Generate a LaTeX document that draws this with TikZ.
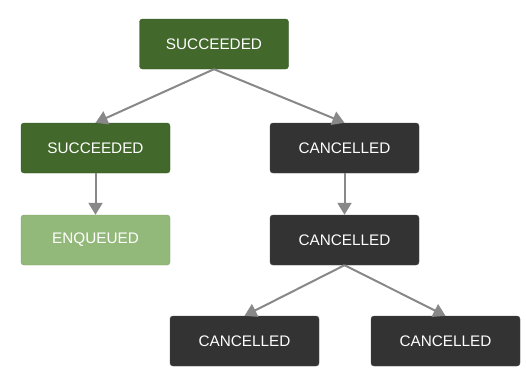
\documentclass[tikz,border=0pt]{standalone}
\usepackage{fontspec}
\setmainfont{Liberation Sans}
\usepackage{xcolor}
\usepackage{tikz}
\usetikzlibrary{arrows.meta, positioning}
\definecolor{okgreen}{RGB}{66, 104, 44}
\definecolor{queuedgreen}{RGB}{147, 185, 122}
\definecolor{cancelgray}{RGB}{51, 51, 51}
\definecolor{edgegray}{RGB}{136, 136, 136}

\tikzset{
    job/.style={rounded corners=3pt, minimum width=149pt, minimum height=50pt,
        text=white, font=\fontsize{15.3}{17}\selectfont, inner sep=0pt},
    succeeded/.style={job, fill=okgreen, draw=okgreen!85!black},
    enqueued/.style={job, fill=queuedgreen, draw=queuedgreen!85!black},
    cancelled/.style={job, fill=cancelgray, draw=cancelgray!90!white},
    flow/.style={draw=edgegray, line width=2pt, -{Triangle[width=14pt,length=12pt]}}
}

\begin{document}
\begin{tikzpicture}[x=1pt, y=-1pt]
    \useasboundingbox (0,0) rectangle (526,388);

    % Jobs
    \node[succeeded] (root) at (214,44) {SUCCEEDED};
    \node[succeeded] (left) at (95.5,148) {SUCCEEDED};
    \node[enqueued] (queued) at (95.5,240) {ENQUEUED};
    \node[cancelled] (cancelA) at (344.5,148) {CANCELLED};
    \node[cancelled] (cancelB) at (344.5,240) {CANCELLED};
    \node[cancelled] (cancelC) at (244.5,341) {CANCELLED};
    \node[cancelled] (cancelD) at (445.5,341) {CANCELLED};

    % Edges
    \draw[flow] (root.south) -- (left.north);
    \draw[flow] (root.south) -- (cancelA.north);
    \draw[flow] (left.south) -- (queued.north);
    \draw[flow] (cancelA.south) -- (cancelB.north);
    \draw[flow] (cancelB.south) -- (cancelC.north);
    \draw[flow] (cancelB.south) -- (cancelD.north);
\end{tikzpicture}
\end{document}
